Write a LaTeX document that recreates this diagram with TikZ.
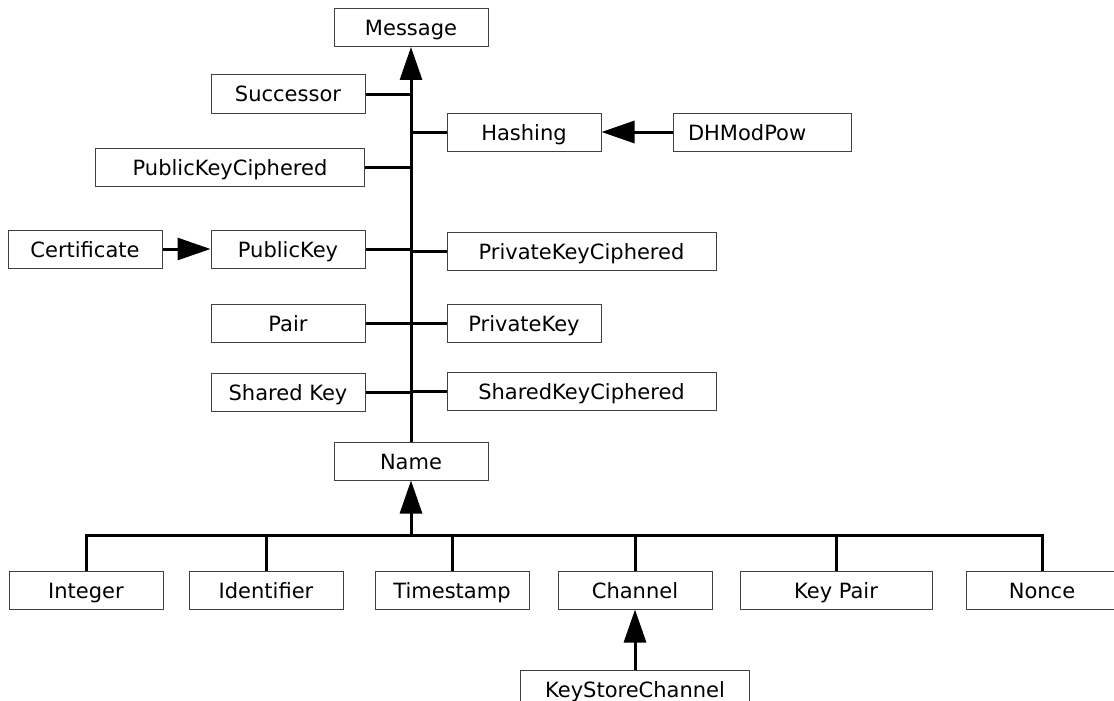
\documentclass[tikz,border=0pt]{standalone}
\usepackage{fontspec}
\setmainfont{DejaVu Sans}
\usetikzlibrary{arrows.meta,positioning}

\begin{document}
\begin{tikzpicture}[x=1pt,y=-1pt,->,>={Triangle[length=33pt,width=22pt]},
                    line width=3pt,font=\fontsize{21}{25}\selectfont]
\tikzstyle{box}=[draw=black!75,line width=1pt,inner sep=0pt,
                 minimum width=154pt,minimum height=38pt,
                 text height=18pt,text depth=2pt]
\tikzstyle{wide}=[box,minimum width=269pt]
\useasboundingbox (0,0) rectangle (1114,701);
% trunk
\node[box] (msg) at (411,27.5) {Message};
\node[box] (name) at (411,461) {Name};
% left side
\node[box] (succ) at (288,94) {Successor};
\node[wide] (pkc) at (230,167) {PublicKeyCiphered};
\node[box] (pubkey) at (288,249) {PublicKey};
\node[box] (cert) [left=48pt of pubkey] {Certificate};
\node[box] (pair) at (288,323) {Pair};
\node[box] (shkey) at (288,392) {Shared Key};
% right side
\node[box] (hash) at (524,132) {Hashing};
\node[box,minimum width=178pt,text width=148pt,inner xsep=15pt,align=left]
     (dh) [right=71pt of hash] {DHModPow};
\node[wide] (prkc) at (581.5,251) {PrivateKeyCiphered};
\node[box] (prkey) at (524,323.5) {PrivateKey};
\node[wide] (shkc) at (581.5,391) {SharedKeyCiphered};
% bottom row
\node[box] (int) at (86,590) {Integer};
\node[box] (ident) at (266,590) {Identifier};
\node[box] (stamp) at (452,590) {Timestamp};
\node[box] (chan) at (635,590) {Channel};
\node[box,minimum width=192pt] (kpair) at (836,590) {Key Pair};
\node[box,minimum width=152pt] (nonce) at (1042,590) {Nonce};
\node[box,minimum width=229pt] (ksc) [below=60pt of chan] {KeyStoreChannel};
\coordinate (bus) at (411,535);

\path (name) edge (msg)
      (dh) edge (hash)
      (cert) edge (pubkey)
      (ksc) edge (chan)
      (bus) edge (name);
\foreach \n in {succ,pkc,pubkey,pair,shkey}
  \draw[-] (\n.east) -- (\n.east -| msg);
\foreach \n in {hash,prkc,prkey,shkc}
  \draw[-] (\n.west) -- (\n.west -| msg);
\draw[-] (int.north) |- (bus) -| (nonce.north);
\foreach \n in {ident,stamp,chan,kpair}
  \draw[-] (\n.north) -- (\n.north |- bus);
\end{tikzpicture}
\end{document}
